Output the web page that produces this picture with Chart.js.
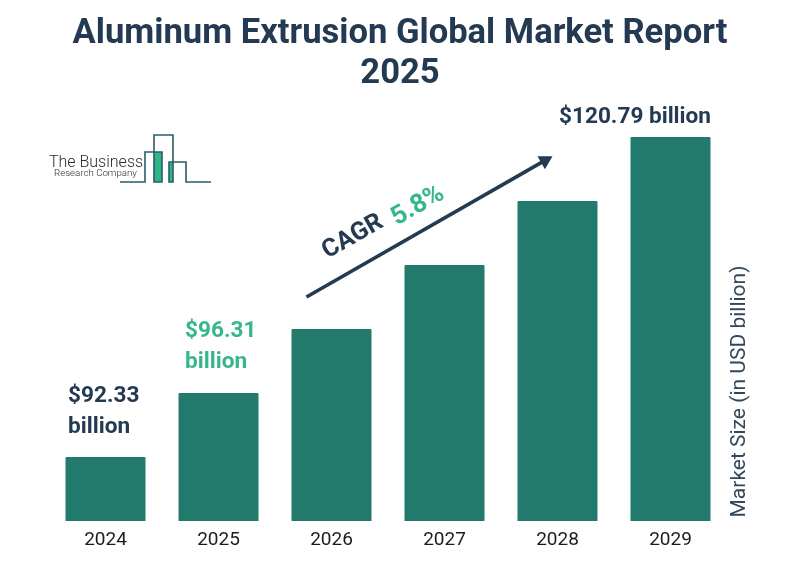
<!DOCTYPE html>
<html>
<head>
<meta charset="utf-8">
<title>Aluminum Extrusion Global Market Report 2025</title>
<script src="https://cdn.jsdelivr.net/npm/chart.js@4"></script>
<style>
    html, body { margin: 0; padding: 0; background: #fff; }
    #wrap { width: 785px; height: 571px; position: relative; }
</style>
</head>
<body>
<div id="wrap"><canvas id="marketChart" width="785" height="571"></canvas></div>
<script>
const years = ['2024', '2025', '2026', '2027', '2028', '2029'];
// bars in the picture climb in equal steps, they are not drawn to the printed dollar values
const barLevels = [1, 2, 3, 4, 5, 6];

const titleLines = ['Aluminum Extrusion Global Market Report', '2025'];
const label2024 = ['$92.33', 'billion'];
const label2025 = ['$96.31', 'billion'];
const label2029 = '$120.79 billion';
const cagrWord = 'CAGR';
const cagrValue = '5.8%';
const axisTitle = 'Market Size (in USD billion)';

const DARK = '#233a52';
const GREEN = '#35b78a';
const BAR = '#217a6b';

function setText(ctx, font, color, align) {
    ctx.font = font + ' Roboto, sans-serif';
    ctx.fillStyle = color;
    ctx.textAlign = align || 'left';
    ctx.textBaseline = 'middle';
}

function drawLogo(ctx) {
    ctx.save();
    ctx.fillStyle = '#2fb686';
    ctx.fillRect(154, 152, 8, 30);
    ctx.fillRect(169, 162, 4, 20);
    ctx.strokeStyle = '#2b5d6c';
    ctx.lineWidth = 1.6;
    ctx.beginPath();
    ctx.moveTo(120, 182);
    ctx.lineTo(145, 182);
    ctx.lineTo(145, 152);
    ctx.lineTo(162, 152);
    ctx.lineTo(162, 182);
    ctx.lineTo(154, 182);
    ctx.lineTo(154, 135);
    ctx.lineTo(173, 135);
    ctx.lineTo(173, 182);
    ctx.lineTo(169, 182);
    ctx.lineTo(169, 162);
    ctx.lineTo(186, 162);
    ctx.lineTo(186, 182);
    ctx.lineTo(211, 182);
    ctx.stroke();
    setText(ctx, '300 16px', '#2a2a2a');
    ctx.fillText('The Business', 49, 163);
    setText(ctx, '300 9.7px', '#2a2a2a');
    ctx.fillText('Research Company', 54, 174);
    ctx.restore();
}

// 标题、数值标签、箭头等都在这里画
const annotations = {
    id: 'annotations',
    afterDraw(chart) {
        const ctx = chart.ctx;
        const xs = chart.scales.x;
        const ys = chart.scales.y;
        ctx.save();

        setText(ctx, 'bold 34.6px', DARK, 'center');
        ctx.fillText(titleLines[0], 400, 34);
        ctx.fillText(titleLines[1], 400, 74);

        drawLogo(ctx);

        // value labels sit relative to their bars
        setText(ctx, 'bold 22.6px', DARK);
        const x0 = xs.getPixelForValue(0) - 37.5;
        ctx.fillText(label2024[0], x0, ys.getPixelForValue(1) - 61);
        ctx.fillText(label2024[1], x0, ys.getPixelForValue(1) - 30);

        setText(ctx, 'bold 22.6px', GREEN);
        const x1 = xs.getPixelForValue(1) - 33.5;
        ctx.fillText(label2025[0], x1, ys.getPixelForValue(2) - 62);
        ctx.fillText(label2025[1], x1, ys.getPixelForValue(2) - 31);

        setText(ctx, 'bold 22.6px', DARK, 'right');
        ctx.fillText(label2029, xs.getPixelForValue(5) + 40.5, ys.getPixelForValue(6) - 20);

        // CAGR arrow
        const ax = xs.getPixelForValue(1) + 88;
        const ay = ys.getPixelForValue(3.5);
        const bx = xs.getPixelForValue(4) - 5;
        const by = ys.getPixelForValue(5.7);
        const ang = Math.atan2(by - ay, bx - ax);
        ctx.strokeStyle = DARK;
        ctx.fillStyle = DARK;
        ctx.lineWidth = 3.6;
        ctx.beginPath();
        ctx.moveTo(ax, ay);
        ctx.lineTo(bx - 8 * Math.cos(ang), by - 8 * Math.sin(ang));
        ctx.stroke();
        ctx.save();
        ctx.translate(bx, by);
        ctx.rotate(ang);
        ctx.beginPath();
        ctx.moveTo(0, 0);
        ctx.lineTo(-13, -7.5);
        ctx.lineTo(-13, 7.5);
        ctx.closePath();
        ctx.fill();
        ctx.restore();

        // CAGR text follows the arrow angle
        ctx.save();
        ctx.translate(353, 237);
        ctx.rotate(ang);
        setText(ctx, 'bold 25px', DARK, 'center');
        ctx.fillText(cagrWord, 0, 0);
        ctx.restore();
        ctx.save();
        ctx.translate(418, 206);
        ctx.rotate(ang);
        setText(ctx, 'bold 26px', GREEN, 'center');
        ctx.fillText(cagrValue, 0, 0);
        ctx.restore();

        // axis title
        ctx.save();
        ctx.translate(740, 391.5);
        ctx.rotate(-Math.PI / 2);
        setText(ctx, '400 21px', '#33475b', 'center');
        ctx.fillText(axisTitle, 0, 0);
        ctx.restore();

        ctx.restore();
    }
};

const ctx = document.getElementById('marketChart').getContext('2d');
new Chart(ctx, {
    type: 'bar',
    data: {
        labels: years,
        datasets: [{
            data: barLevels,
            backgroundColor: BAR,
            borderRadius: 1,
            categoryPercentage: 1,
            barPercentage: 0.708
        }]
    },
    options: {
        responsive: false,
        animation: false,
        layout: {
            padding: { left: 49, right: 58, top: 137, bottom: 0 }
        },
        plugins: {
            legend: { display: false },
            title: { display: false },
            tooltip: { enabled: false }
        },
        scales: {
            x: {
                grid: { display: false, drawTicks: false },
                border: { display: false },
                ticks: {
                    color: '#1c1c1c',
                    font: { family: 'Roboto, sans-serif', size: 19 },
                    padding: 8,
                    maxRotation: 0
                },
                afterFit: (scale) => { scale.height = 50; }
            },
            y: {
                display: false,
                min: 0,
                max: 6
            }
        }
    },
    plugins: [annotations]
});
</script>
</body>
</html>
